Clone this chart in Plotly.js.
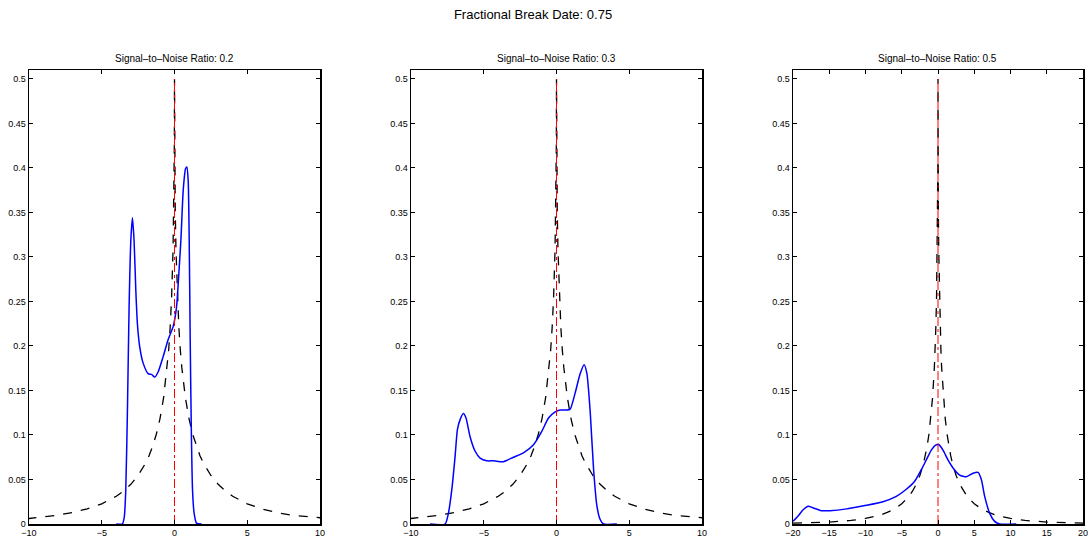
<!DOCTYPE html>
<html>
<head>
<meta charset="utf-8">
<script src="https://cdn.plot.ly/plotly-3.0.1.min.js"></script>
<style>html,body{margin:0;padding:0;background:#fff;}#chart{width:1088px;height:538px;}</style>
</head>
<body>
<div id="chart"></div>
<script>
// ---- data ----
var mainTitle = "Fractional Break Date: 0.75";
var panelTitles = ["Signal–to–Noise Ratio: 0.2", "Signal–to–Noise Ratio: 0.3", "Signal–to–Noise Ratio: 0.5"];

// asymptotic density (black dashed), shared by all panels
var dashX = [-20,-15,-12,-10,-8,-7,-6,-5,-4,-3.5,-3,-2.5,-2,-1.75,-1.5,-1.25,-1,-0.75,-0.5,-0.4,-0.3,-0.2,-0.1,-0.05,-0.02,-0.01,0,
             0.01,0.02,0.05,0.1,0.2,0.3,0.4,0.5,0.75,1,1.25,1.5,1.75,2,2.5,3,3.5,4,5,6,7,8,10,12,15,20];
var dashY = [0.0009,0.0022,0.0040,0.0062,0.0100,0.0130,0.0170,0.0227,0.0312,0.0371,0.0446,0.0545,0.0680,0.0767,0.0874,0.1008,0.1181,0.1417,0.1762,0.1956,0.2204,0.2544,0.3080,0.3536,0.4007,0.4272,0.5,
             0.4272,0.4007,0.3536,0.3080,0.2544,0.2204,0.1956,0.1762,0.1417,0.1181,0.1008,0.0874,0.0767,0.0680,0.0545,0.0446,0.0371,0.0312,0.0227,0.0170,0.0130,0.0100,0.0062,0.0040,0.0022,0.0009];

// finite-sample densities (blue)
var snr02X = [-4.0,-3.58,-3.45,-3.35,-3.23,-3.12,-3.0,-2.89,-2.78,-2.66,-2.55,-2.39,-2.16,-1.81,-1.58,-1.35,-1.12,-0.78,-0.44,-0.09,0.14,0.3,0.44,0.6,0.76,0.85,0.94,1.01,1.08,1.15,1.24,1.35,1.51,1.86];
var snr02Y = [0,0,0.008,0.038,0.132,0.244,0.319,0.344,0.319,0.263,0.225,0.199,0.181,0.169,0.168,0.165,0.171,0.188,0.207,0.222,0.244,0.282,0.319,0.375,0.399,0.401,0.386,0.319,0.207,0.113,0.038,0.012,0.001,0];

var snr03X = [-8.69,-7.66,-7.43,-7.2,-6.97,-6.81,-6.63,-6.4,-6.22,-5.94,-5.6,-5.25,-4.79,-4.33,-3.65,-2.96,-2.27,-1.58,-1.01,-0.55,-0.09,0.25,0.71,0.94,1.28,1.63,1.9,2.09,2.32,2.55,2.78,3.0,3.23,4.15];
var snr03Y = [0,0,0.012,0.038,0.076,0.106,0.117,0.124,0.119,0.098,0.082,0.074,0.071,0.071,0.070,0.075,0.080,0.089,0.104,0.119,0.126,0.128,0.128,0.129,0.147,0.169,0.179,0.169,0.125,0.061,0.020,0.005,0,0];

var snr05X = [-20,-19.3,-18.6,-17.9,-17.2,-16.1,-14.9,-12.6,-9.89,-7.59,-5.75,-4.37,-3.22,-2.3,-1.61,-0.92,-0.23,0.14,0.69,1.38,2.07,2.99,3.91,4.83,5.52,5.98,6.44,7.13,7.82,8.51,10.8];
var snr05Y = [0.003,0.009,0.016,0.020,0.018,0.015,0.015,0.017,0.021,0.025,0.031,0.039,0.048,0.061,0.072,0.083,0.089,0.089,0.083,0.072,0.063,0.055,0.053,0.057,0.058,0.050,0.031,0.012,0.003,0,0];

var breakX = [0, 0];
var breakY = [0, 0.5];

var xTicksA = [-10,-5,0,5,10];
var xTicksB = [-20,-15,-10,-5,0,5,10,15,20];
var yTicks = [0,0.05,0.1,0.15,0.2,0.25,0.3,0.35,0.4,0.45,0.5];
var yTickText = ["0","0.05","0.1","0.15","0.2","0.25","0.3","0.35","0.4","0.45","0.5"];

// ---- figure ----
var blues = [[snr02X, snr02Y],[snr03X, snr03Y],[snr05X, snr05Y]];
var xRanges = [[-10,10],[-10,10],[-20,20]];
var xTickSets = [xTicksA, xTicksA, xTicksB];
var domains = [[29/1088, 320/1088],[411/1088, 702/1088],[793/1088, 1083/1088]];
var yDom = [14/538, 468/538];
var fontFam = "Liberation Sans, Arial, Helvetica, sans-serif";

var traces = [];
var layout = {
  width: 1088, height: 538,
  margin: {l:0, r:0, t:0, b:0},
  paper_bgcolor: "#fff", plot_bgcolor: "#fff",
  showlegend: false,
  font: {family: fontFam, size: 9, color: "#000"},
  title: {text: mainTitle, x: 533/1088, xanchor: "center", y: 1 - 14/538, yanchor: "middle", font: {family: fontFam, size: 13, color: "#000"}},
  annotations: []
};

for (var i = 0; i < 3; i++) {
  var sfx = i === 0 ? "" : String(i + 1);
  var xa = "x" + sfx, ya = "y" + sfx;
  traces.push({x: dashX, y: dashY, xaxis: xa, yaxis: ya, mode: "lines", type: "scatter",
               line: {color: "#000", width: 1.3, dash: "dash"}, hoverinfo: "skip"});
  traces.push({x: blues[i][0], y: blues[i][1], xaxis: xa, yaxis: ya, mode: "lines", type: "scatter",
               line: {color: "#0000ff", width: 1.5, shape: "spline", smoothing: 0.6}, hoverinfo: "skip"});
  traces.push({x: breakX, y: breakY, xaxis: xa, yaxis: ya, mode: "lines", type: "scatter",
               line: {color: "#ff0000", width: 1, dash: "dashdot"}, hoverinfo: "skip"});
  layout["xaxis" + sfx] = {
    domain: domains[i], range: xRanges[i], anchor: ya,
    tickvals: xTickSets[i], ticks: "inside", ticklen: 4, tickcolor: "#000", tickwidth: 1,
    showline: true, linecolor: "#000", linewidth: 1.5, mirror: "ticks",
    showgrid: false, zeroline: false, automargin: false, ticklabeloverflow: "allow",
    tickfont: {family: fontFam, size: 9, color: "#000"}
  };
  layout["yaxis" + sfx] = {
    domain: yDom, range: [0, 0.51], anchor: xa,
    tickvals: yTicks, ticktext: yTickText, ticks: "inside", ticklen: 4, tickcolor: "#000", tickwidth: 1,
    showline: true, linecolor: "#000", linewidth: 1.5, mirror: "ticks",
    showgrid: false, zeroline: false, automargin: false, ticklabeloverflow: "allow",
    tickfont: {family: fontFam, size: 9, color: "#000"}
  };
  layout.annotations.push({
    text: panelTitles[i], xref: "paper", yref: "paper",
    x: (domains[i][0] + domains[i][1]) / 2, y: 1 - 59/538, xanchor: "center", yanchor: "middle",
    showarrow: false, font: {family: fontFam, size: 10, color: "#000"}
  });
}

Plotly.newPlot("chart", traces, layout, {displayModeBar: false, staticPlot: true});
</script>
</body>
</html>
